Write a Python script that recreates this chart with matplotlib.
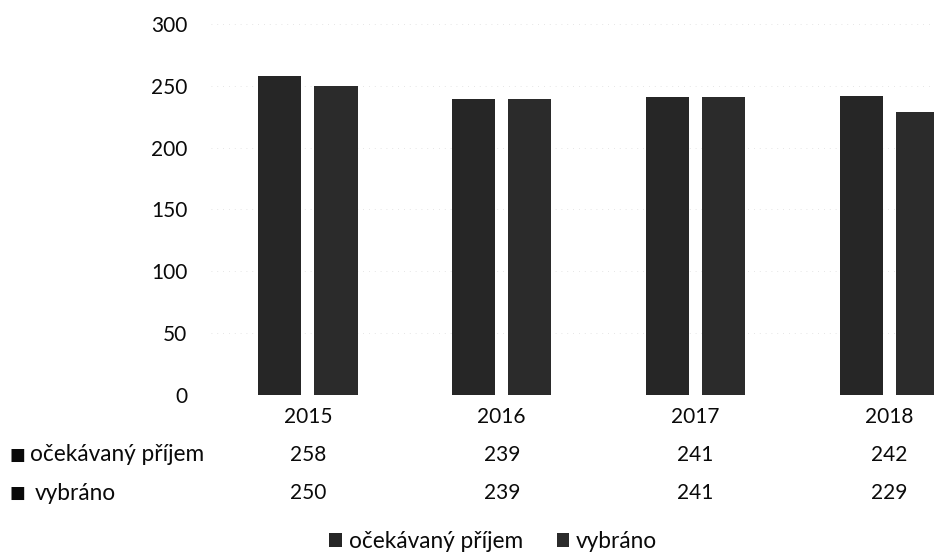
import matplotlib
matplotlib.use("Agg")
import matplotlib.pyplot as plt
from matplotlib.transforms import blended_transform_factory

years = ["2015", "2016", "2017", "2018"]
series_names = ["očekávaný příjem", "vybráno"]
expected = [258, 239, 241, 242]
collected = [250, 239, 241, 229]
yticks = [0, 50, 100, 150, 200, 250, 300]

plt.rcParams['font.family'] = ['Lato', 'DejaVu Sans']
FS = 15
FS_W = 16.3
TXT = '#0a0a0a'
bar_color = ['#262626', '#2b2b2b']

fig = plt.figure(figsize=(9.34, 5.56), dpi=100)
ax = fig.add_axes([0.2259, 0.2896, 0.7741, 0.6673])

x = list(range(len(years)))
w = 0.222
off = 0.145
b1 = ax.bar([i - off for i in x], expected, width=w, color=bar_color[0], label=series_names[0])
b2 = ax.bar([i + off for i in x], collected, width=w, color=bar_color[1], label=series_names[1])

ax.set_xlim(-0.5, 3.23)
ax.set_ylim(0, 300)
ax.set_yticks(yticks)
ax.set_yticklabels([str(v) for v in yticks], fontsize=FS, color=TXT)
ax.set_xticks(x)
ax.set_xticklabels(years, fontsize=FS, color=TXT)
ax.tick_params(axis='y', length=0, pad=17)
ax.tick_params(axis='x', length=0, pad=9)
for s in ax.spines.values():
    s.set_visible(False)
ax.yaxis.grid(True, color='#dddddd', linestyle=(0, (1, 6)), linewidth=0.6)
ax.set_axisbelow(True)

# data table rows
tr = blended_transform_factory(ax.transData, fig.transFigure)
row_y = [0.1817, 0.1133]
for vals, yy in zip([expected, collected], row_y):
    for i, v in enumerate(vals):
        ax.text(i, yy, str(v), transform=tr, ha='center', va='center',
                fontsize=FS, color=TXT, clip_on=False)

fig.text(0.010, row_y[0], "■", fontsize=FS - 3, va='center', ha='left',
         family=['DejaVu Sans'], color=TXT)
fig.text(0.032, row_y[0], series_names[0], fontsize=FS_W, va='center', ha='left', color=TXT)
fig.text(0.010, row_y[1], "■", fontsize=FS - 3, va='center', ha='left',
         family=['DejaVu Sans'], color=TXT)
fig.text(0.037, row_y[1], series_names[1], fontsize=FS_W, va='center', ha='left', color=TXT)

fig.legend(handles=[b1, b2], loc='center', bbox_to_anchor=(0.528, 0.026),
           ncol=2, frameon=False, fontsize=FS_W, handlelength=0.55, handleheight=0.55,
           handletextpad=0.3, columnspacing=1.5, labelcolor=TXT,
           borderaxespad=0, borderpad=0.1)

fig.savefig("out.png", dpi=100)
